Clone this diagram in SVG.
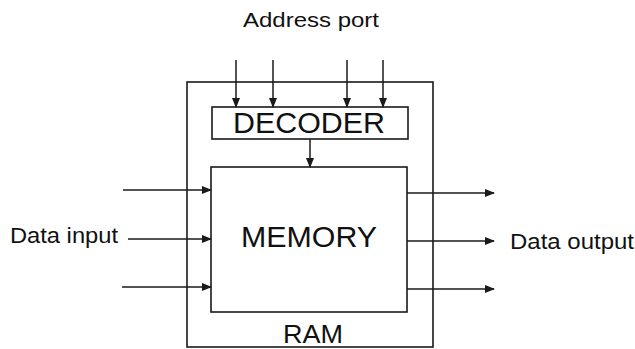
<svg xmlns="http://www.w3.org/2000/svg" width="635" height="349" viewBox="0 0 635 349">
<style>
.box{fill:none;stroke:#1a1a1a;stroke-width:1.6}
.ln{fill:none;stroke:#1a1a1a;stroke-width:1.5}
.t{font-family:"Liberation Sans",Arial,sans-serif;fill:#111}
</style>
<defs>
<marker id="ah" markerWidth="10" markerHeight="8" refX="9" refY="4" orient="auto" markerUnits="userSpaceOnUse">
<path d="M0,0 L10,4 L0,8 Z" fill="#1a1a1a"/>
</marker>
</defs>
<rect width="635" height="349" fill="#fff"/>
<g id="ram">
<rect class="box" x="187" y="82" width="246" height="265"/>
<text class="t" x="313" y="343" font-size="25" text-anchor="middle" textLength="60" lengthAdjust="spacingAndGlyphs">RAM</text>
</g>
<g id="decoder">
<rect class="box" x="212" y="107" width="196" height="32"/>
<text class="t" x="309" y="133" font-size="29" text-anchor="middle" textLength="152" lengthAdjust="spacingAndGlyphs">DECODER</text>
</g>
<g id="memory">
<rect class="box" x="211" y="167" width="196" height="145"/>
<text class="t" x="309" y="247" font-size="30" text-anchor="middle" textLength="136" lengthAdjust="spacingAndGlyphs">MEMORY</text>
</g>
<g id="labels">
<text class="t" x="311" y="27" font-size="21" text-anchor="middle" textLength="136" lengthAdjust="spacingAndGlyphs">Address port</text>
<text class="t" x="10" y="243" font-size="22" textLength="108" lengthAdjust="spacingAndGlyphs">Data input</text>
<text class="t" x="510" y="249" font-size="22" textLength="124" lengthAdjust="spacingAndGlyphs">Data output</text>
</g>
<g id="connectors">
<line class="ln" x1="236" y1="60" x2="236" y2="107" marker-end="url(#ah)"/>
<line class="ln" x1="273" y1="60" x2="273" y2="107" marker-end="url(#ah)"/>
<line class="ln" x1="347" y1="60" x2="347" y2="107" marker-end="url(#ah)"/>
<line class="ln" x1="383" y1="60" x2="383" y2="107" marker-end="url(#ah)"/>
<line class="ln" x1="310" y1="139" x2="310" y2="167" marker-end="url(#ah)"/>
<line class="ln" x1="123" y1="190" x2="211" y2="190" marker-end="url(#ah)"/>
<line class="ln" x1="128" y1="239" x2="211" y2="239" marker-end="url(#ah)"/>
<line class="ln" x1="122" y1="287" x2="211" y2="287" marker-end="url(#ah)"/>
<line class="ln" x1="407" y1="193" x2="494" y2="193" marker-end="url(#ah)"/>
<line class="ln" x1="407" y1="241" x2="494" y2="241" marker-end="url(#ah)"/>
<line class="ln" x1="407" y1="289" x2="494" y2="289" marker-end="url(#ah)"/>
</g>
</svg>
